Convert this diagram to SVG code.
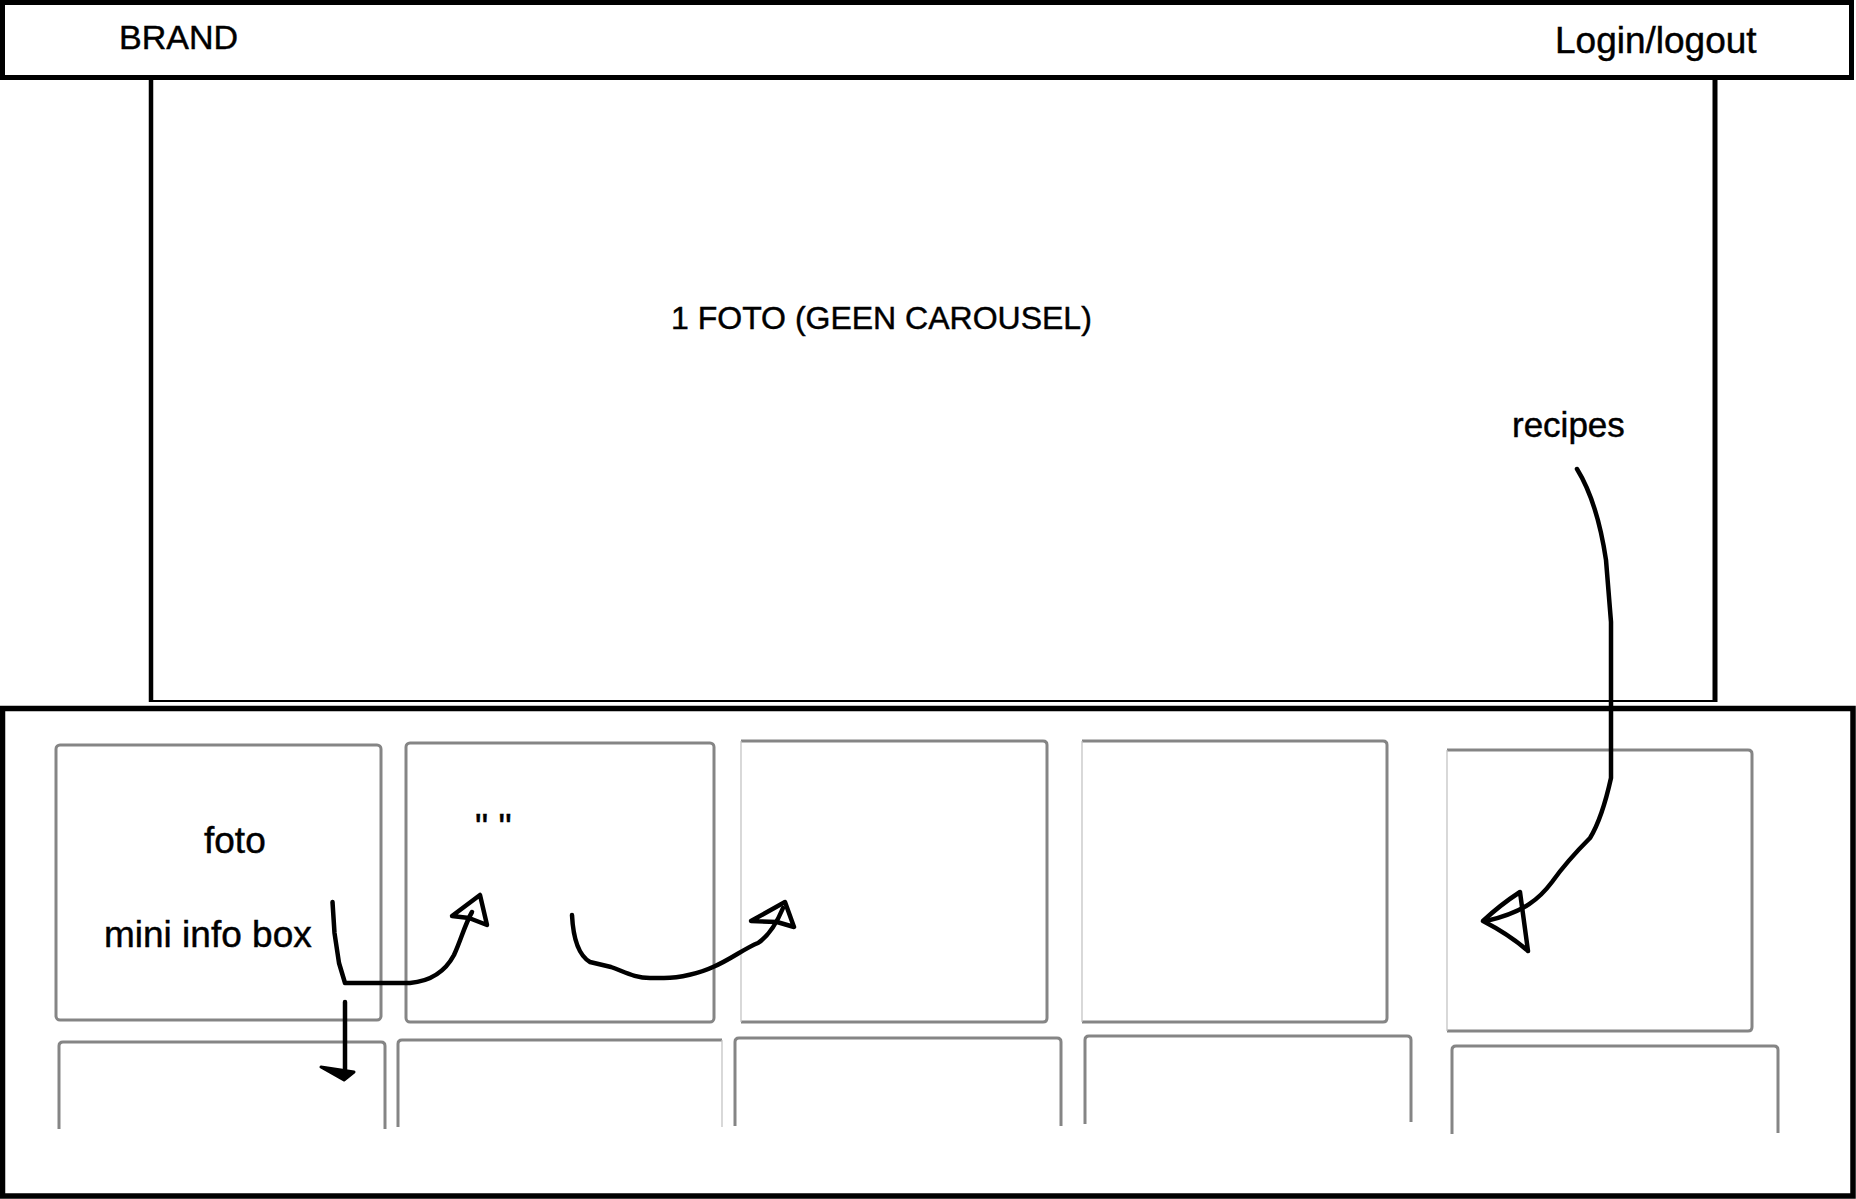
<svg xmlns="http://www.w3.org/2000/svg" width="1856" height="1199" viewBox="0 0 1856 1199">
<style>
.frame{fill:none;stroke:#000;stroke-width:5}
.tile{fill:none;stroke:#858585;stroke-width:3;stroke-linejoin:round}
.tlight{fill:none;stroke:#c4c4c4;stroke-width:1.3}
.lbl{font-family:"Liberation Sans",Arial,sans-serif;fill:#000;stroke:#000;stroke-width:0.45}
.ink{fill:none;stroke:#000;stroke-width:4.5;stroke-linecap:round;stroke-linejoin:round}
.head{fill:none;stroke:#000;stroke-width:4.5;stroke-linejoin:round}
</style>
<rect width="1856" height="1199" fill="#fff"/>
<g id="header">
<rect class="frame" x="2.5" y="2.5" width="1849" height="75"/>
<text class="lbl" x="119" y="49" font-size="34">BRAND</text>
<text class="lbl" x="1555" y="53" font-size="37">Login/logout</text>
</g>
<g id="hero">
<line x1="151" y1="78" x2="151" y2="702" stroke="#000" stroke-width="4.5"/>
<line x1="1715" y1="78" x2="1715" y2="702" stroke="#000" stroke-width="5"/>
<line x1="149" y1="701" x2="1717" y2="701" stroke="#000" stroke-width="2"/>
<text class="lbl" x="671" y="329" font-size="32">1 FOTO (GEEN CAROUSEL)</text>
<text class="lbl" x="1512" y="437" font-size="35">recipes</text>
</g>
<g id="container">
<rect class="frame" x="2.5" y="708.5" width="1850.5" height="487.5" style="stroke-width:5.5"/>
</g>
<g id="tile-1-1">
<rect class="tile" x="56" y="745" width="325" height="275" rx="4"/>
<text class="lbl" x="204" y="853" font-size="37">foto</text>
<text class="lbl" x="104" y="947" font-size="37">mini info box</text>
</g>
<g id="tile-1-2">
<rect class="tile" x="406" y="743" width="308" height="279" rx="4"/>
<text class="lbl" x="475" y="840" font-size="37">" "</text>
</g>
<g id="tile-1-3">
<path class="tile" d="M741,741 L1043,741 Q1047,741 1047,745 L1047,1018 Q1047,1022 1043,1022 L741,1022"/>
<line class="tlight" x1="741" y1="741" x2="741" y2="1022"/>
</g>
<g id="tile-1-4">
<path class="tile" d="M1082,741 L1383,741 Q1387,741 1387,745 L1387,1018 Q1387,1022 1383,1022 L1082,1022"/>
<line class="tlight" x1="1082" y1="741" x2="1082" y2="1022"/>
</g>
<g id="tile-1-5">
<path class="tile" d="M1447,750 L1748,750 Q1752,750 1752,754 L1752,1027 Q1752,1031 1748,1031 L1447,1031"/>
<line class="tlight" x1="1447" y1="750" x2="1447" y2="1031"/>
</g>
<g id="tile-2-1"><path class="tile" d="M59,1129 L59,1046 Q59,1042 63,1042 L381,1042 Q385,1042 385,1046 L385,1129"/></g>
<g id="tile-2-2"><path class="tile" d="M398,1127 L398,1044 Q398,1040 402,1040 L722,1040"/><line class="tlight" x1="722" y1="1040" x2="722" y2="1127"/></g>
<g id="tile-2-3"><path class="tile" d="M735,1126 L735,1042 Q735,1038 739,1038 L1057,1038 Q1061,1038 1061,1042 L1061,1126"/></g>
<g id="tile-2-4"><path class="tile" d="M1085,1124 L1085,1040 Q1085,1036 1089,1036 L1407,1036 Q1411,1036 1411,1040 L1411,1122"/></g>
<g id="tile-2-5"><path class="tile" d="M1452,1134 L1452,1050 Q1452,1046 1456,1046 L1774,1046 Q1778,1046 1778,1050 L1778,1133"/></g>
<g id="connectors">
<path class="ink" d="M332.5,902 L334.5,933 L339,963 L345,983 L410,983 C432,981 446,970 454,955 C461,940 465,924 472,912"/>
<path class="head" d="M452,916 L480,895 L487,925 L469,918 Z"/>
<path class="ink" d="M345,1002 L345,1076"/>
<path d="M321,1067 L354,1072 L344,1080 Z" fill="#000" stroke="#000" stroke-width="3" stroke-linejoin="round"/>
<path class="ink" d="M572,915 C573,935 578,955 590,962 L611,967 C625,972 635,978 650,978 L664,978 C680,978 700,973 713,967 C730,960 745,948 758,943 C770,935 778,920 783,908"/>
<path class="head" d="M751,921 L785,902 L794,927 L777,922 Z"/>
<path class="ink" d="M1577,469 C1590,490 1600,520 1606,560 L1611,622 L1611,778 C1605,805 1598,825 1590,838 C1578,850 1562,868 1552,882 C1540,898 1525,912 1486,921"/>
<path class="head" d="M1483,921 Q1500,905 1520,892 L1528,951 Q1510,935 1483,921 Z"/>
</g>
</svg>
